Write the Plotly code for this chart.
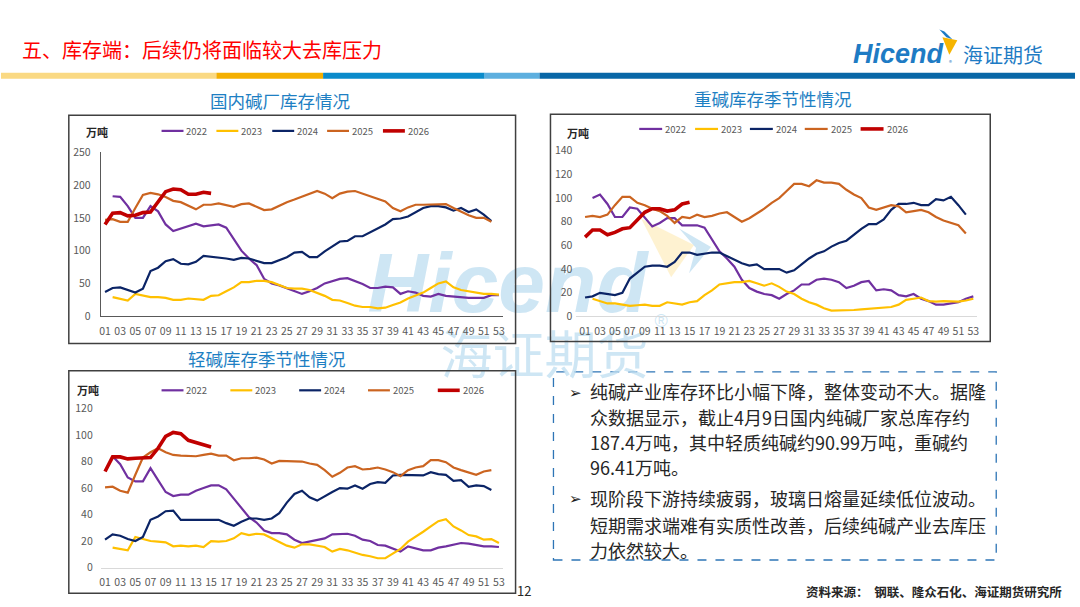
import plotly.graph_objects as go

W, H = 1080, 607
FONT = "Noto Sans CJK SC"

weeks_a = list(range(1, 53))      # 2024 / 2025 series: week 01-52
weeks_b = list(range(2, 54))      # 2022 / 2023 series: week 02-53
weeks_c = list(range(1, 16))      # 2026: week 01-15
tick_weeks = list(range(1, 54, 2))
tick_text = [f"{w:02d}" for w in tick_weeks]
years = ["2022", "2023", "2024", "2025", "2026"]
colors = ["#7030A0", "#FFC000", "#0B2466", "#CB6420", "#C00000"]
widths = [2.2, 2.2, 2.2, 2.2, 3.6]

# 国内碱厂库存 (万吨)
total_2022 = [183, 182, 168, 150, 150, 168, 160, 140, 130, 134, 138, 141, 137, 139, 140, 135, 118, 100, 88, 78,
              57, 50, 47, 43, 39, 34, 38, 43, 50, 54, 57, 58, 54, 49, 43, 43, 45, 44, 34, 38, 36, 31, 30, 34,
              31, 30, 28, 28, 28, 28, 32, 32]
total_2023 = [29, 27, 24, 34, 31, 29, 29, 28, 25, 25, 27, 26, 25, 31, 32, 38, 44, 52, 52, 54, 54, 52, 47, 43,
              42, 42, 40, 36, 31, 25, 24, 20, 16, 14, 14, 12, 13, 17, 21, 27, 31, 36, 43, 50, 53, 44, 40, 38,
              36, 34, 34, 33]
total_2024 = [37, 43, 44, 40, 36, 42, 69, 74, 84, 87, 80, 79, 83, 92, 91, 89, 88, 86, 89, 88, 85, 81, 81, 86,
              90, 97, 98, 90, 90, 99, 107, 114, 115, 122, 122, 128, 134, 140, 148, 149, 152, 159, 165, 168,
              168, 166, 161, 165, 159, 163, 155, 145]
total_2025 = [147, 148, 144, 144, 165, 185, 188, 186, 182, 176, 174, 169, 163, 170, 170, 172, 170, 167, 171,
              172, 167, 162, 163, 169, 174, 178, 182, 187, 191, 187, 180, 187, 190, 191, 187, 182, 179, 175,
              165, 160, 166, 170, 170, 170, 171, 171, 165, 159, 154, 150, 150, 144]
total_2026 = [140, 157, 158, 153, 154, 158, 159, 175, 190, 194, 193, 186, 186, 189, 187.4]

# 重碱库存 (万吨)
heavy_2022 = [100, 103, 95, 84, 84, 92, 91, 83, 76, 79, 83, 83, 77, 77, 77, 75, 65, 55, 49, 42, 31, 24, 21, 19,
              18, 15, 19, 22, 27, 27, 31, 32, 31, 29, 24, 26, 29, 30, 22, 23, 22, 18, 17, 19, 15, 13, 10, 10,
              11, 12, 15, 17]
heavy_2023 = [15, 13, 11, 11, 10, 9, 9.5, 10, 9, 9, 12, 11, 10, 12, 13, 18, 22, 27, 28, 29, 29, 30, 28, 26, 28,
              25, 21, 19, 15, 12, 10, 7, 5, 5, 5.5, 5.5, 6, 6.5, 7, 7.5, 8, 10, 14, 15, 16, 13, 12.5, 13, 13,
              12.5, 13.5, 15]
heavy_2024 = [16, 17, 20, 19, 18, 20, 32, 37, 42, 43, 43, 42, 46, 54, 54, 52, 53, 54, 54, 51, 48, 45, 43, 44,
              40, 40, 40, 37, 39, 44, 49, 53, 55, 59, 62, 64, 69, 74, 78, 78, 82, 90, 95, 95, 96, 94, 94, 99,
              98, 101, 94, 86]
heavy_2025 = [84, 85, 84, 86, 94, 101, 101, 96, 94, 91, 89, 85, 79, 84, 83, 86, 84, 85, 87, 88, 84, 80, 83, 87,
              91, 96, 100, 106, 112, 112, 110, 115, 113, 113, 112, 107, 103, 100, 92, 90, 92, 94, 93, 88, 89,
              90, 88, 84, 81, 79, 77, 70]
heavy_2026 = [67, 73, 73, 69, 71, 74, 75, 81, 88, 91, 91, 89, 90, 95, 96.41]

# 轻碱库存 (万吨)
light_2022 = [84, 78, 68, 65, 65, 75, 66, 57, 54, 55, 55, 58, 60, 62, 62, 59, 52, 45, 38, 34, 28, 26, 26, 25,
              21, 18.5, 19.5, 21, 22, 25, 25, 25.5, 24, 21, 20, 17, 16.5, 14, 12, 16, 14.5, 13, 13, 15, 16,
              17.5, 18.5, 18, 17, 16, 16, 15.5]
light_2023 = [15, 14, 13, 23, 21.5, 20, 19.5, 19, 16, 16.5, 16, 16.5, 15.5, 20, 19.5, 20, 22, 26, 24.5, 25.5,
              25, 22, 19, 16.5, 15, 17.5, 17.5, 16.5, 15.5, 12, 14, 13, 11, 9.5, 8.5, 7, 7, 10.5, 14, 19.5,
              23, 27, 31, 35, 36.5, 31, 28, 24.5, 23.5, 21, 21.5, 18.5]
light_2024 = [21, 25, 24, 21.5, 20, 23, 36, 38.5, 42.5, 43, 36, 36, 36, 36.5, 36, 36, 33.5, 31.5, 34.5, 37,
              37, 36, 37, 41, 49, 55.5, 58, 53, 50.5, 54, 57, 60, 59.5, 62, 59.5, 63, 64.5, 64, 69.5, 70, 70,
              69.5, 69.5, 72, 70.5, 70, 65.5, 66, 61, 62, 61.5, 58.5]
light_2025 = [60.5, 61, 58, 56.5, 70, 83, 87, 90, 87, 85, 84.5, 84.5, 84, 85, 86, 84.5, 84.5, 81, 82.5, 82.5,
              83, 81.5, 78.5, 80.5, 80.5, 80, 80, 78.5, 77.5, 73.5, 68.5, 71.5, 75.5, 76.5, 74, 74.5, 75.5,
              74, 72, 69, 73.5, 75.5, 76.5, 81, 81, 79.5, 75.5, 73.5, 72, 70, 72.5, 73.5]
light_2026 = [72.5, 83.5, 83.5, 82, 82.5, 83, 83, 90, 99, 102, 101, 96, 94.5, 92.5, 90.99]

body_lines = [
    "纯碱产业库存环比小幅下降，整体变动不大。据隆",
    "众数据显示，截止4月9日国内纯碱厂家总库存约",
    "187.4万吨，其中轻质纯碱约90.99万吨，重碱约",
    "96.41万吨。",
    "现阶段下游持续疲弱，玻璃日熔量延续低位波动。",
    "短期需求端难有实质性改善，后续纯碱产业去库压",
    "力依然较大。",
]


def px(x):
    return x / W


def py(y):
    return 1 - y / H


fig = go.Figure()

# watermark (first subplot so it sits under the chart lines)
fig.add_trace(go.Scatter(
    x=[508, 662, 545], y=[290, 322, 362], mode="text",
    text=["Hicend", "®", "海证期货"],
    textfont=dict(family=["Liberation Sans", "Liberation Sans", FONT], size=[84, 18, 52],
                  color="rgba(190,222,240,0.75)", weight=["bold", "normal", "normal"],
                  style=["italic", "normal", "normal"]),
    hoverinfo="skip", showlegend=False, xaxis="x", yaxis="y",
))

charts = [
    ("2", [total_2022, total_2023, total_2024, total_2025, total_2026]),
    ("3", [heavy_2022, heavy_2023, heavy_2024, heavy_2025, heavy_2026]),
    ("4", [light_2022, light_2023, light_2024, light_2025, light_2026]),
]
for ax, series in charts:
    for yr, vals, col, lw in zip(years, series, colors, widths):
        xs = weeks_c if yr == "2026" else (weeks_b if yr in ("2022", "2023") else weeks_a)
        fig.add_trace(go.Scatter(
            x=xs, y=vals, mode="lines", name=yr, line=dict(color=col, width=lw),
            showlegend=False, xaxis="x" + ax, yaxis="y" + ax,
        ))

tick_font = dict(family=FONT, size=10.5, color="#595959")
xcommon = dict(tickmode="array", tickvals=tick_weeks, ticktext=tick_text, tickfont=tick_font,
               showgrid=False, zeroline=False, ticks="", ticklabelstandoff=5, fixedrange=True)
ycommon = dict(tickfont=tick_font, showgrid=False, zeroline=False, ticks="", fixedrange=True)

fig.update_layout(
    width=W, height=H, autosize=False,
    margin=dict(l=0, r=0, t=0, b=0),
    paper_bgcolor="white", plot_bgcolor="rgba(0,0,0,0)",
    showlegend=False,
    xaxis=dict(domain=[0, 1], range=[0, W], visible=False, fixedrange=True),
    yaxis=dict(domain=[0, 1], range=[H, 0], visible=False, fixedrange=True),
    xaxis2=dict(domain=[px(100), px(503.5)], range=[0.43, 53.55], anchor="y2",
                showline=True, linecolor="#595959", linewidth=1, **xcommon),
    yaxis2=dict(domain=[py(316), py(148)], range=[0, 250], anchor="x2", tickvals=list(range(0, 251, 50)),
                showline=True, linecolor="#595959", linewidth=1, ticklabelstandoff=7, **ycommon),
    xaxis3=dict(domain=[px(577), px(979)], range=[-0.16, 53.53], anchor="y3",
                showline=True, linecolor="#D9D9D9", linewidth=1, **xcommon),
    yaxis3=dict(domain=[py(316.3), py(146.3)], range=[0, 140], anchor="x3", tickvals=list(range(0, 141, 20)),
                showline=False, ticklabelstandoff=3, **ycommon),
    xaxis4=dict(domain=[px(100), px(503.5)], range=[0.43, 53.55], anchor="y4",
                showline=True, linecolor="#D9D9D9", linewidth=1, **xcommon),
    yaxis4=dict(domain=[py(573.7), py(410.7)], range=[0, 120], anchor="x4", tickvals=list(range(0, 121, 20)),
                showline=False, ticklabelstandoff=7, **ycommon),
)

shapes = []
annotations = []


def rect(x0, y0, x1, y1, **kw):
    shapes.append(dict(type="rect", xref="paper", yref="paper", x0=px(x0), x1=px(x1), y0=py(y1), y1=py(y0), **kw))


def text(x, y, s, size, color="#262626", xanchor="left", **kw):
    annotations.append(dict(xref="paper", yref="paper", x=px(x), y=py(y), text=s, showarrow=False,
                            xanchor=xanchor, yanchor="middle", font=dict(family=FONT, size=size, color=color, **kw)))


# header
text(19, 43, "五、库存端：后续仍将面临较大去库压力", 20, color="#FF0000")
for x0, x1, c in [(0, 216, "#FAD983"), (216, 323, "#F4AF00"), (323, 485, "#0A8BCB"),
                  (485, 540, "#5DAFDF"), (540, 1077, "#0867A7")]:
    rect(x0, 66.5, x1, 72.5, fillcolor=c, line=dict(width=0), layer="below")

# logo
annotations.append(dict(xref="paper", yref="paper", x=px(900), y=py(47), text="Hicend", showarrow=False,
                        xanchor="center", yanchor="middle",
                        font=dict(family="Liberation Sans", size=27, color="#1E7BC4", weight="bold", style="italic")))
text(949, 56, "®", 6, color="#1E7BC4")
text(1005, 48, "海证期货", 20, color="#1E7BC4", xanchor="center")
shapes.append(dict(type="path", xref="paper", yref="paper", fillcolor="#F6B500", line=dict(width=0),
                   path=f"M{px(944)},{py(30)} L{px(959)},{py(33)} L{px(951)},{py(48)} Z"))
shapes.append(dict(type="path", xref="paper", yref="paper", fillcolor="#1E7BC4", line=dict(width=0),
                   path=f"M{px(941)},{py(22)} L{px(946)},{py(24)} L{px(954)},{py(32)} L{px(948)},{py(30)} Z"))

# faint watermark chevron
shapes.append(dict(type="path", xref="paper", yref="paper", fillcolor="rgba(253,236,190,0.7)", line=dict(width=0),
                   layer="below",
                   path=f"M{px(642)},{py(216)} L{px(695)},{py(243)} L{px(672)},{py(276)} Z"))
shapes.append(dict(type="path", xref="paper", yref="paper", fillcolor="rgba(190,222,240,0.75)", line=dict(width=0),
                   layer="below",
                   path=f"M{px(680)},{py(226)} L{px(712)},{py(245)} L{px(690)},{py(272)} L{px(697)},{py(246)} Z"))

# chart frames and titles
frame = dict(color="#404040", width=1.5)
rect(68, 110, 516, 344, line=frame)
rect(551, 109, 992, 342, line=frame)
rect(68, 372, 516, 600, line=frame)
title_col = "#1E7FC3"
text(279.5, 95, "国内碱厂库存情况", 17.5, color=title_col, xanchor="center")
text(774, 93, "重碱库存季节性情况", 17.5, color=title_col, xanchor="center")
text(266.5, 359, "轻碱库存季节性情况", 17.5, color=title_col, xanchor="center")

# units and legends
for ux, uy, lx, ly, llen in [(96, 127, [161, 216, 272, 327, 383], 126, 22),
                             (579, 128, [640, 696, 751, 806, 862], 124, 23),
                             (87, 392, [161, 230, 299, 368, 438], 392, 22)]:
    text(ux, uy, "万吨", 11, color="#262626", xanchor="center", weight="bold")
    for x0, yr, col, lw in zip(lx, years, colors, widths):
        shapes.append(dict(type="line", xref="paper", yref="paper", x0=px(x0), x1=px(x0 + llen),
                           y0=py(ly), y1=py(ly), line=dict(color=col, width=lw)))
        text(x0 + llen + 1, ly, yr, 9.5, color="#595959")

# commentary box
rect(554, 373, 998, 566, line=dict(color="#2E75B6", width=1.3, dash="dash"), fillcolor="white", layer="below")
line_y = [393, 419, 445, 471, 502, 530, 556]
for i, (s, yy) in enumerate(zip(body_lines, line_y)):
    text(589, yy, s, 18, color="#262626")
    if i in (0, 4):
        text(568, yy, "➢", 15, color="#1A1A1A")

text(524, 597, "12", 13, color="#262626", xanchor="center")
text(1066, 598, "资料来源：  钢联、隆众石化、海证期货研究所", 12.5, color="#262626", xanchor="right", weight="bold")

fig.update_layout(shapes=shapes, annotations=annotations)
# the page body has a default 8px margin; drop it so the slide fills the window exactly
fig.write_html("out.html", config={"displayModeBar": False},
               post_script="document.body.style.margin='0px';")
